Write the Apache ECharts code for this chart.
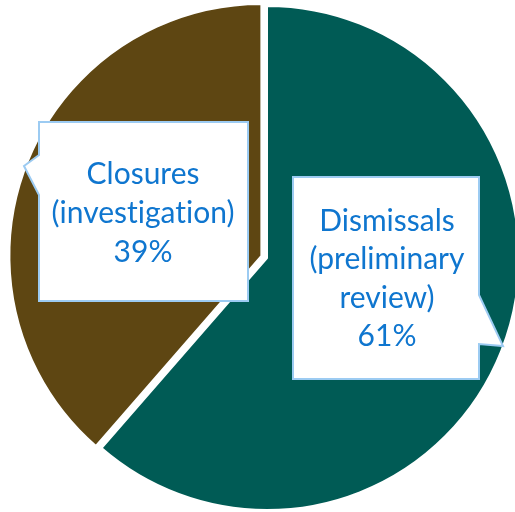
<!DOCTYPE html>
<html>
<head>
<meta charset="utf-8">
<script src="https://cdn.jsdelivr.net/npm/echarts@6/dist/echarts.min.js"></script>
<style>
html,body{margin:0;padding:0;background:#fff;}
#chart{width:515px;height:512px;}
</style>
</head>
<body>
<div id="chart"></div>
<script>
// Data
const categories = ['Dismissals\n(preliminary\nreview)', 'Closures\n(investigation)'];
const values = [61.4, 38.6];
const colors = ['#005B55', '#5E4612'];

const total = values.reduce((a, b) => a + b, 0);
// zero-width non-joiner after "t" avoids the font's "ti" ligature
const labelTexts = categories.map((c, i) =>
  (c + '\n' + Math.round(values[i] / total * 100) + '%').replace(/t(?=i)/g, 't\u200C'));

const FONT = 'Lato, "Open Sans", sans-serif';
const TEXT_COLOR = '#0F76CF';
const BOX_STROKE = '#9CCBF2';

const chart = echarts.init(document.getElementById('chart'), null, {renderer: 'canvas'});
chart.setOption({
  animation: false,
  backgroundColor: '#ffffff',
  series: [{
    type: 'pie',
    center: [267, 258],
    radius: 252,
    startAngle: 90,
    clockwise: true,
    selectedMode: 'single',
    selectedOffset: 6,
    label: {show: false},
    labelLine: {show: false},
    emphasis: {disabled: true},
    itemStyle: {borderColor: '#ffffff', borderWidth: 2},
    data: values.map((v, i) => ({
      name: categories[i],
      value: v,
      selected: i === 1,
      itemStyle: {color: colors[i]}
    }))
  }],
  graphic: [
    {
      type: 'polygon', z: 10,
      shape: {points: [[293,177],[479,177],[479,295],[503,346],[479,344],[479,379],[293,379]]},
      style: {fill: '#ffffff', stroke: BOX_STROKE, lineWidth: 2}
    },
    {
      type: 'text', z: 11, x: 387, y: 279,
      style: {text: labelTexts[0], fill: TEXT_COLOR, fontSize: 30, fontFamily: FONT,
              align: 'center', verticalAlign: 'middle', lineHeight: 38.5}
    },
    {
      type: 'polygon', z: 10,
      shape: {points: [[39,122],[248,122],[248,301],[39,301],[39,195],[24,166],[39,155]]},
      style: {fill: '#ffffff', stroke: BOX_STROKE, lineWidth: 2}
    },
    {
      type: 'text', z: 11, x: 143, y: 213,
      style: {text: labelTexts[1], fill: TEXT_COLOR, fontSize: 30, fontFamily: FONT,
              align: 'center', verticalAlign: 'middle', lineHeight: 39}
    }
  ]
});
</script>
</body>
</html>
